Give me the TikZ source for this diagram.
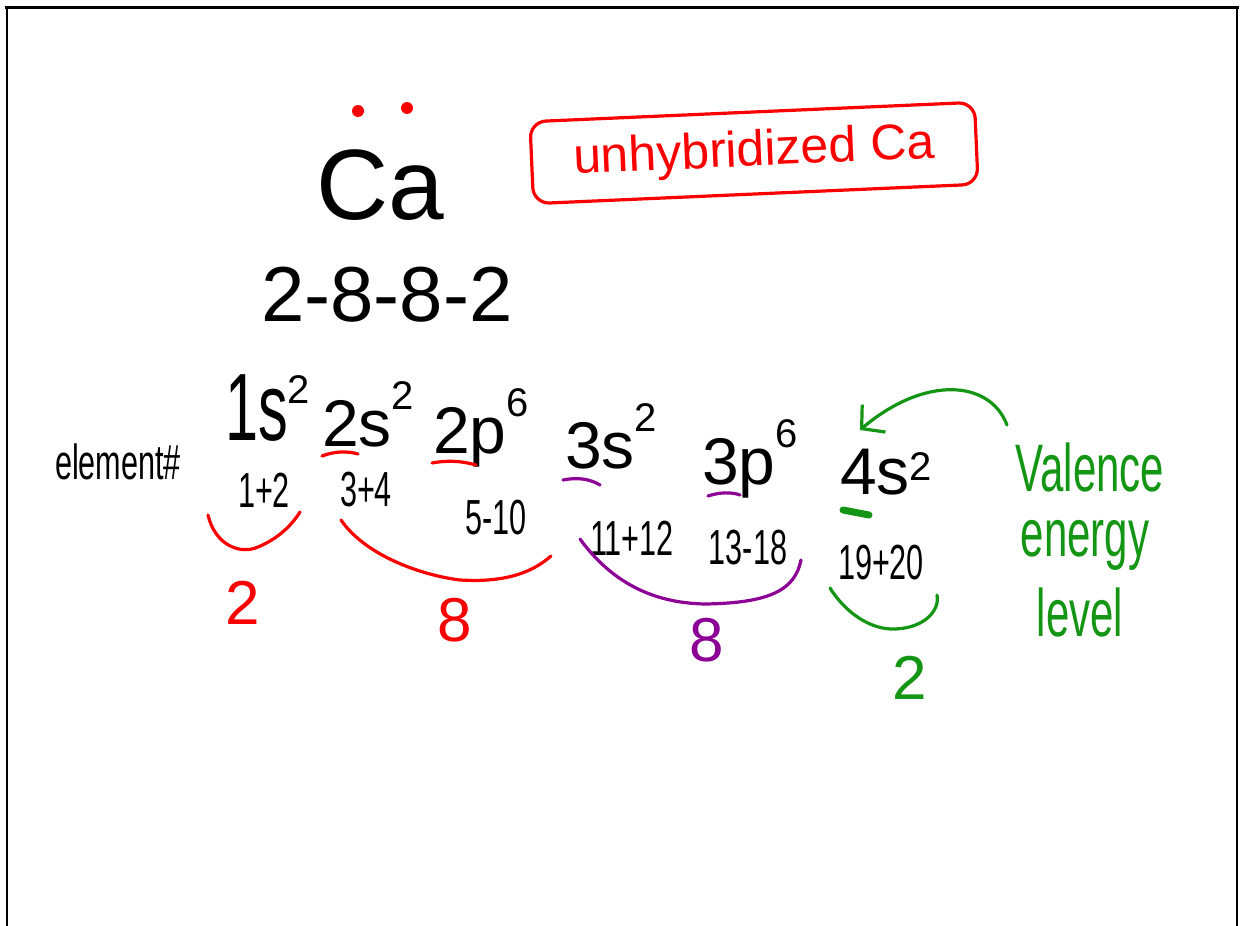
\documentclass[tikz,border=0pt]{standalone}
\usepackage{fontspec}
\setmainfont{Liberation Sans}
\usetikzlibrary{arrows.meta}
\definecolor{inkred}{RGB}{250,0,0}
\definecolor{inkpurple}{RGB}{140,0,150}
\definecolor{inkgreen}{RGB}{20,150,20}
\newcommand{\upx}[1]{\raisebox{0.55em}{\fontsize{40}{40}\selectfont #1}}
\newcommand{\lowx}[1]{\raisebox{0.2em}{\fontsize{40}{40}\selectfont #1}}
\newcommand{\tall}[1]{\scalebox{0.9}[1.45]{#1}}
\tikzset{
  ink/.style={line width=3.2pt, line cap=round, line join=round},
  cfg/.style={inner sep=0pt, anchor=base west, font=\fontsize{66}{66}\selectfont},
  num/.style={inner sep=0pt, font=\fontsize{34}{34}\selectfont},
  tally/.style={inner sep=0pt, font=\fontsize{62}{62}\selectfont},
  green txt/.style={inner sep=0pt, text=inkgreen, font=\fontsize{42}{42}\selectfont},
}
\begin{document}
\begin{tikzpicture}[x=1pt,y=-1pt]
\useasboundingbox (0,0) rectangle (1240,926);
% frame
\draw[line width=2pt] (7,926) -- (7,7) -- (1237,7) -- (1237,926);
\draw[line width=3pt] (5,7) -- (1239,7);

% Ca with lone pair
\node[inner sep=0pt, font=\fontsize{100}{100}\selectfont] (ca) at (380,185) {Ca};
\fill[inkred] (358,111) circle (6) (407,108) circle (6);

% boxed label
\node[draw=inkred, ink, rounded corners=16pt, rotate=2.5, minimum width=445, minimum height=82,
      text=inkred, font=\fontsize{50}{50}\selectfont] (unhyb) at (754,153) {unhybridized Ca};

% shells
\node[inner sep=0pt, font=\fontsize{78}{78}\selectfont] (shells) at (387,295) {2-8-8-2};

% configuration
\node[cfg] (c1s) at (225,440) {\tall{1s}\upx{2}};
\node[cfg] (c2s) at (322,446) {2s\upx{2}};
\node[cfg] (c2p) at (433,453) {2p\upx{6}};
\node[cfg] (c3s) at (565,468) {3s\upx{2}};
\node[cfg] (c3p) at (702,484) {3p\upx{6}};
\node[cfg] (c4s) at (840,494) {4s\lowx{2}};

% underlines
\draw[ink, inkred] (322,456) .. controls (335,451) and (348,451) .. (358,454);
\draw[ink, inkred] (432,463) .. controls (448,460) and (462,461) .. (476,465);
\draw[ink, inkpurple] (563,480) .. controls (578,477) and (590,479) .. (600,485);
\draw[ink, inkpurple] (708,496) .. controls (720,492) and (732,492) .. (740,495);
\draw[line width=7pt, line cap=round, inkgreen] (843,510) -- (869,515);

% element numbers
\node[num] (elem) at (118,462) {\tall{element\#}};
\node[num] (e12) at (264,490) {\tall{1+2}};
\node[num] (e34) at (366,490) {\tall{3+4}};
\node[num] (e510) at (496,518) {\tall{5-10}};
\node[num] (e1112) at (632,538) {\tall{11+12}};
\node[num] (e1318) at (748,548) {\tall{13-18}};
\node[num] (e1920) at (881,563) {\tall{19+20}};

% grouping arcs
\coordinate (r1a) at (208,515); \coordinate (r1b) at (300,512);
\draw[ink, inkred] (r1a) .. controls (215,545) and (240,555) .. (258,547) .. controls (275,540) and (290,528) .. (r1b);
\coordinate (r2a) at (341,520); \coordinate (r2b) at (551,556);
\draw[ink, inkred] (r2a) .. controls (365,555) and (420,575) .. (460,580) .. controls (510,583) and (535,570) .. (r2b);
\coordinate (p1a) at (580,539); \coordinate (p1b) at (801,560);
\draw[ink, inkpurple] (p1a) .. controls (610,580) and (650,603) .. (705,604) .. controls (770,603) and (795,590) .. (p1b);
\coordinate (g1a) at (830,588); \coordinate (g1b) at (937,595);
\draw[ink, inkgreen] (g1a) .. controls (845,612) and (870,630) .. (895,629) .. controls (925,628) and (940,610) .. (g1b);

% totals
\node[tally, text=inkred] (t2) at (243,603) {2};
\node[tally, text=inkred] (t8a) at (455,620) {8};
\node[tally, text=inkpurple] (t8b) at (707,640) {8};
\node[tally, text=inkgreen] (t2b) at (910,678) {2};

% valence label and arrow
\node[green txt] (val) at (1090,467) {\scalebox{1}[1.6]{Valence}};
\node[green txt] (ene) at (1085,545) {\scalebox{1}[1.6]{energy}};
\node[green txt] (lev) at (1080,612) {\scalebox{1}[1.6]{level}};
\coordinate (arrS) at (1007,425);
\coordinate (arrE) at (860,430);
\draw[ink, inkgreen, -{Straight Barb[length=16pt,width=36pt,line width=3.2pt]}]
  (arrS) .. controls (990,380) and (925,375) .. (arrE);
\end{tikzpicture}
\end{document}
